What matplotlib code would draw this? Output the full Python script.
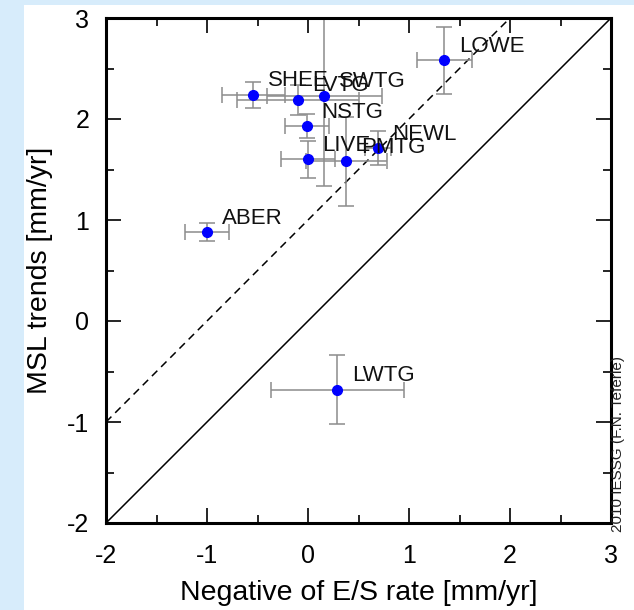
import matplotlib
matplotlib.use("Agg")
import matplotlib.pyplot as plt
from matplotlib.patches import Rectangle
from matplotlib.ticker import MultipleLocator
import numpy as np

# station values
stations = ["LOWE", "SHEE", "LVTG", "SWTG", "NSTG", "LIVE", "PMTG", "NEWL", "ABER", "LWTG"]
es_rate = [1.35, -0.54, -0.10, 0.16, -0.01, 0.00, 0.38, 0.69, -1.00, 0.29]
msl_trend = [2.58, 2.24, 2.19, 2.23, 1.93, 1.60, 1.58, 1.71, 0.88, -0.68]
es_err = [0.27, 0.31, 0.60, 0.57, 0.22, 0.27, 0.40, 0.13, 0.22, 0.66]
msl_err = [0.33, 0.13, 0.15, 0.89, 0.12, 0.18, 0.44, 0.17, 0.09, 0.34]

ticks = [-2, -1, 0, 1, 2, 3]

plt.rcParams["font.family"] = ["Liberation Sans", "DejaVu Sans"]
plt.rcParams["axes.unicode_minus"] = False

fig = plt.figure(figsize=(6.34, 6.10), dpi=100)
fig.patch.set_facecolor("#d7ecfb")
fig.add_artist(Rectangle((24 / 634, 0), 1, 1 - 5 / 610, transform=fig.transFigure,
                         facecolor="white", edgecolor="none", zorder=0))

ax = fig.add_axes([106 / 634, 1 - 523 / 610, 505 / 634, 505 / 610])
ax.set_facecolor("white")

line = np.array([-2, 3])
ax.plot(line, line, color="black", lw=1.1, zorder=1)
ax.plot(line, line + 1, color="black", lw=1.1, ls=(0, (5, 3.5)), zorder=1)

ax.errorbar(es_rate, msl_trend, xerr=es_err, yerr=msl_err, fmt="none",
            ecolor="#8c8c8c", elinewidth=1.1, capsize=6, capthick=1.1, zorder=2)
ax.plot(es_rate, msl_trend, "o", color="#0000ff", ms=7, mec="#0000ff", zorder=3)

for name, x, y in zip(stations, es_rate, msl_trend):
    ax.annotate(name, (x, y), xytext=(10.5, 10), textcoords="offset points",
                ha="left", va="center", fontsize=16, color="#111111", zorder=4)

ax.set_xlim(-2, 3)
ax.set_ylim(-2, 3)
ax.set_xticks(ticks)
ax.set_yticks(ticks)
ax.xaxis.set_minor_locator(MultipleLocator(0.5))
ax.yaxis.set_minor_locator(MultipleLocator(0.5))
ax.tick_params(which="both", direction="in", top=True, right=True, width=1.2)
ax.tick_params(which="major", length=11, labelsize=18)
ax.tick_params(which="minor", length=6)
ax.tick_params(axis="x", which="major", pad=15)
ax.tick_params(axis="y", which="major", pad=12)
for sp in ax.spines.values():
    sp.set_linewidth(2.2)

ax.set_xlabel("Negative of E/S rate [mm/yr]", fontsize=20.5, labelpad=9)
ax.set_ylabel("MSL trends [mm/yr]", fontsize=20.5, labelpad=10)

fig.text(618 / 634, 1 - 532 / 610, "2010 IESSG (F.N. Teferle)", rotation=90,
         ha="center", va="bottom", fontsize=11, color="#222222")

fig.savefig("out.png", dpi=100, facecolor=fig.get_facecolor())
